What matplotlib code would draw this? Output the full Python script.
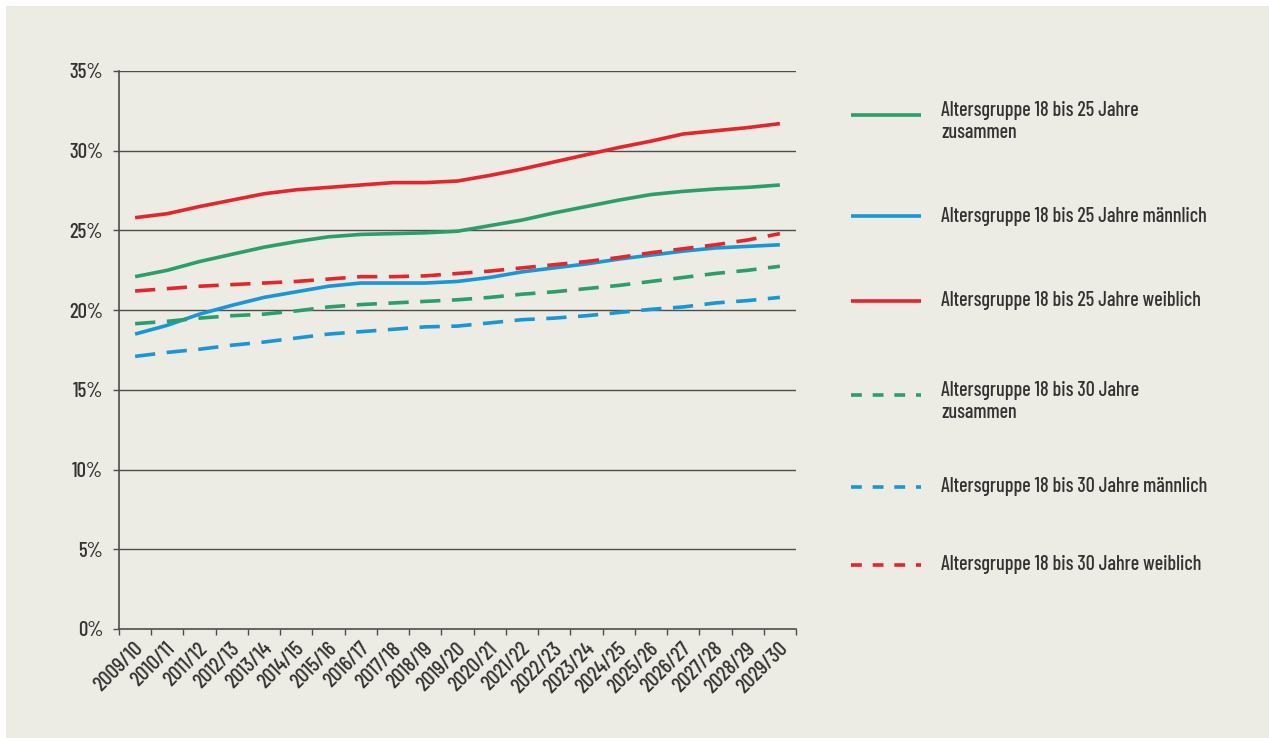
import matplotlib
matplotlib.use("Agg")
import matplotlib.pyplot as plt
from matplotlib.lines import Line2D
from matplotlib.patches import Rectangle
from matplotlib.transforms import ScaledTranslation

plt.rcParams["font.family"] = ["Barlow Condensed", "DejaVu Sans"]
plt.rcParams["font.weight"] = "medium"

years = ["2009/10", "2010/11", "2011/12", "2012/13", "2013/14", "2014/15", "2015/16",
         "2016/17", "2017/18", "2018/19", "2019/20", "2020/21", "2021/22", "2022/23",
         "2023/24", "2024/25", "2025/26", "2026/27", "2027/28", "2028/29", "2029/30"]

ag25_total = [22.1, 22.5, 23.05, 23.5, 23.95, 24.3, 24.6, 24.75, 24.8, 24.85, 24.95, 25.3,
              25.65, 26.1, 26.5, 26.9, 27.25, 27.45, 27.6, 27.7, 27.85]
ag25_male = [18.5, 19.05, 19.75, 20.3, 20.8, 21.15, 21.5, 21.7, 21.7, 21.7, 21.8, 22.05,
             22.4, 22.65, 22.9, 23.2, 23.45, 23.7, 23.9, 24.0, 24.1]
ag25_female = [25.8, 26.05, 26.5, 26.9, 27.3, 27.55, 27.7, 27.85, 28.0, 28.0, 28.1, 28.45,
               28.85, 29.3, 29.75, 30.2, 30.6, 31.05, 31.25, 31.45, 31.7]
ag30_total = [19.15, 19.3, 19.5, 19.65, 19.75, 19.95, 20.2, 20.35, 20.45, 20.55, 20.65, 20.8,
              21.0, 21.15, 21.35, 21.55, 21.8, 22.05, 22.3, 22.5, 22.75]
ag30_male = [17.1, 17.35, 17.55, 17.8, 18.0, 18.25, 18.5, 18.65, 18.8, 18.95, 19.0, 19.2,
             19.4, 19.5, 19.65, 19.85, 20.05, 20.2, 20.45, 20.6, 20.8]
ag30_female = [21.2, 21.35, 21.5, 21.6, 21.7, 21.8, 21.95, 22.1, 22.1, 22.15, 22.3, 22.45,
               22.65, 22.85, 23.05, 23.3, 23.6, 23.85, 24.1, 24.4, 24.8]

y_ticks = [0, 5, 10, 15, 20, 25, 30, 35]
y_labels = ["0%", "5%", "10%", "15%", "20%", "25%", "30%", "35%"]

labels = [
    "Altersgruppe 18 bis 25 Jahre\nzusammen",
    "Altersgruppe 18 bis 25 Jahre männlich",
    "Altersgruppe 18 bis 25 Jahre weiblich",
    "Altersgruppe 18 bis 30 Jahre\nzusammen",
    "Altersgruppe 18 bis 30 Jahre männlich",
    "Altersgruppe 18 bis 30 Jahre weiblich",
]

GREEN = "#2b9e6a"
BLUE = "#1896d6"
RED = "#e3262c"
BG = "#ecebe4"
TEXT = "#333333"
GRID = "#4d4d4d"

series = [
    (ag25_total, GREEN, "solid"),
    (ag25_male, BLUE, "solid"),
    (ag25_female, RED, "solid"),
    (ag30_total, GREEN, "dashed"),
    (ag30_male, BLUE, "dashed"),
    (ag30_female, RED, "dashed"),
]

fig = plt.figure(figsize=(12.69, 7.38), dpi=100, facecolor="white")
fig.add_artist(Rectangle((6 / 1269, 0), 1, 1 - 6 / 738, transform=fig.transFigure,
                         facecolor=BG, edgecolor="none", zorder=-10))

ax = fig.add_axes([119 / 1269, 109 / 738, 677 / 1269, 558 / 738])
ax.patch.set_alpha(0)

x = list(range(len(years)))
LW = 2.6
for vals, col, style in series:
    if style == "solid":
        ax.plot(x, vals, color=col, lw=LW, solid_capstyle="butt", zorder=3)
    else:
        ax.plot(x, vals, color=col, lw=LW, dashes=(5.6, 3.2), dash_capstyle="butt", zorder=3)

ax.set_xlim(-0.5, len(years) - 0.5)
ax.set_ylim(0, 35)

for t in y_ticks[1:]:
    ax.axhline(t, color=GRID, lw=1.0, zorder=1)

ax.set_yticks(y_ticks)
ax.set_yticklabels(y_labels)
ax.tick_params(axis="y", length=4.5, width=1.0, color=GRID, pad=7, labelsize=15,
               labelcolor=TEXT)

# category boundaries carry the tick marks, centres carry the labels
ax.set_xticks([i - 0.5 for i in range(len(years) + 1)])
ax.set_xticklabels([])
ax.set_xticks(x, minor=True)
ax.set_xticklabels(years, minor=True, rotation=45, ha="right", va="center",
                   rotation_mode="anchor")
ax.tick_params(axis="x", which="major", length=4, width=1.0, color=GRID)
ax.tick_params(axis="x", which="minor", length=0, pad=12, labelsize=15.5, labelcolor=TEXT)
shift = ScaledTranslation(5 / 100, 0, fig.dpi_scale_trans)
for lab in ax.get_xticklabels(minor=True):
    lab.set_transform(lab.get_transform() + shift)

for s in ["top", "right"]:
    ax.spines[s].set_visible(False)
for s in ["left", "bottom"]:
    ax.spines[s].set_color(GRID)
    ax.spines[s].set_linewidth(1.2)

# legend drawn at fixed positions on the right
legend_y = [115, 216, 301, 395, 487, 565]
for (vals, col, style), lab, ypx in zip(series, labels, legend_y):
    yf = 1 - ypx / 738
    kw = dict(color=col, lw=LW, transform=fig.transFigure, solid_capstyle="butt")
    if style == "dashed":
        kw.update(dashes=(3.0, 3.0), dash_capstyle="butt")
    fig.add_artist(Line2D([851 / 1269, 921 / 1269], [yf, yf], **kw))
    if "\n" in lab:
        ytxt = 1 - (ypx - 14) / 738
        fig.text(941 / 1269, ytxt, lab, ha="left", va="top", fontsize=14.5, color=TEXT,
                 linespacing=1.2)
    else:
        fig.text(941 / 1269, yf, lab, ha="left", va="center", fontsize=14.5, color=TEXT)

fig.savefig("out.png", dpi=100, facecolor="white")
